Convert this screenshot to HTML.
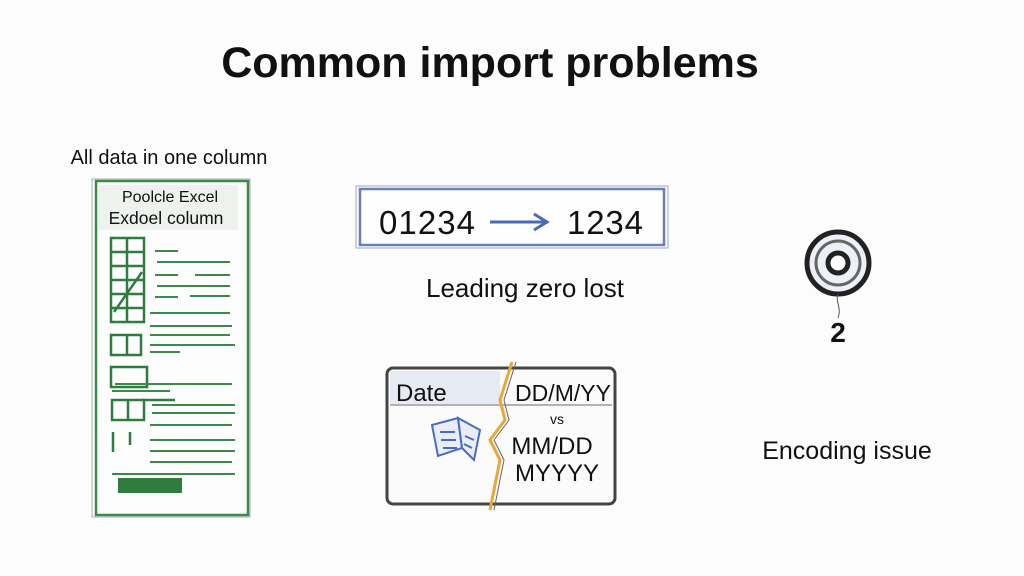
<!DOCTYPE html>
<html><head><meta charset="utf-8"><style>
body{margin:0;width:1024px;height:576px;background:#fcfcfc;overflow:hidden}
svg{display:block}
text{font-family:"Liberation Sans",sans-serif;fill:#111}
</style></head><body>
<svg width="1024" height="576" viewBox="0 0 1024 576">
<text x="490" y="77" font-size="43" font-weight="bold" text-anchor="middle">Common import problems</text>
<text x="169" y="164" font-size="20" text-anchor="middle">All data in one column</text>
<!-- left panel -->
<rect x="96" y="181" width="152" height="334" fill="#fdfdfd" stroke="#3a8a4a" stroke-width="2.5"/>
<rect x="92" y="179" width="158" height="338" fill="none" stroke="#999" stroke-width="0.8"/>
<rect x="98" y="185" width="140" height="45" fill="#eef2ee"/>
<text x="170" y="202" font-size="16" text-anchor="middle">Poolcle Excel</text>
<text x="166" y="224" font-size="17.5" text-anchor="middle">Exdoel column</text>
<g stroke="#2f7d3e" fill="none" stroke-width="2.5">
<rect x="111" y="238" width="33" height="84"/>
<path d="M111 252H144M111 266H144M111 280H144M111 294H144M111 308H144M127 238V322M114 312L142 272"/>
<rect x="111" y="335" width="30" height="20"/><path d="M127 335V355"/>
<rect x="111" y="367" width="36" height="20"/>
<rect x="112" y="400" width="32" height="20"/><path d="M128 400V420M142 400H175"/>
<path d="M113 432V452M130 432V445"/>
</g>
<g stroke="#3a8a4a" stroke-width="2">
<path d="M155 251H178M157 262H230M155 275H178M195 275H230M157 286H230M155 297H178M190 296H230"/>
<path d="M150 313H230M150 326H232M150 335H230M150 345H235M150 352H180M115 384H232M112 391H170M152 405H235M152 413H235M150 425H232M150 440H235M150 451H235M150 462H232M112 474H235"/>
</g>
<rect x="118" y="478" width="64" height="15" fill="#2f7d3e"/>
<!-- leading zero -->
<rect x="360" y="189" width="304" height="56" fill="#fefefe" stroke="#6a7fb8" stroke-width="2.5"/>
<rect x="356" y="186" width="312" height="62" fill="none" stroke="#9aa8cc" stroke-width="1"/>
<text x="379" y="234" font-size="33" textLength="96">01234</text>
<path d="M490 222H545M534 214L547 222L534 230" stroke="#4a6bb0" stroke-width="3" fill="none"/>
<text x="567" y="234" font-size="33" textLength="76">1234</text>
<text x="525" y="297" font-size="26" text-anchor="middle">Leading zero lost</text>
<!-- date -->
<rect x="387" y="368" width="228" height="136" rx="6" fill="#fbfbfb" stroke="#444" stroke-width="3"/>
<rect x="390" y="371" width="110" height="33" fill="#e6eaf2"/>
<path d="M390 405H612" stroke="#999" stroke-width="1.5"/>
<text x="396" y="401" font-size="24">Date</text>
<text x="515" y="401" font-size="23" textLength="96">DD/M/YY</text>
<text x="557" y="424" font-size="14" text-anchor="middle">vs</text>
<text x="552" y="454" font-size="24" text-anchor="middle">MM/DD</text>
<text x="557" y="481" font-size="24" text-anchor="middle">MYYYY</text>
<path d="M512 362L500 400L505 420L490 440L500 460L490 510" stroke="#e8a838" stroke-width="3" fill="none"/>
<path d="M516 362L504 400L509 420L494 440L504 460L494 510" stroke="#666" stroke-width="1" fill="none"/>
<g stroke="#4a6bc0" stroke-width="2" fill="#e8edf8">
<path d="M432 425L458 418L462 448L438 456Z"/><path d="M458 418L480 430L474 460L462 448Z"/>
<path d="M440 432H455M441 440H456M443 448H457M465 436L474 440M464 444L472 448" fill="none"/>
</g>
<!-- encoding -->
<circle cx="838" cy="263" r="31" fill="#eef0f8" stroke="#222" stroke-width="5"/>
<circle cx="838" cy="263" r="22" fill="none" stroke="#666" stroke-width="3"/>
<circle cx="838" cy="263" r="10" fill="#fff" stroke="#222" stroke-width="5"/>
<path d="M838 294C835 302 842 308 838 318" stroke="#555" fill="none"/>
<text x="838" y="342" font-size="28" font-weight="bold" text-anchor="middle">2</text>
<text x="847" y="459" font-size="25" text-anchor="middle">Encoding issue</text>
</svg>
</body></html>
